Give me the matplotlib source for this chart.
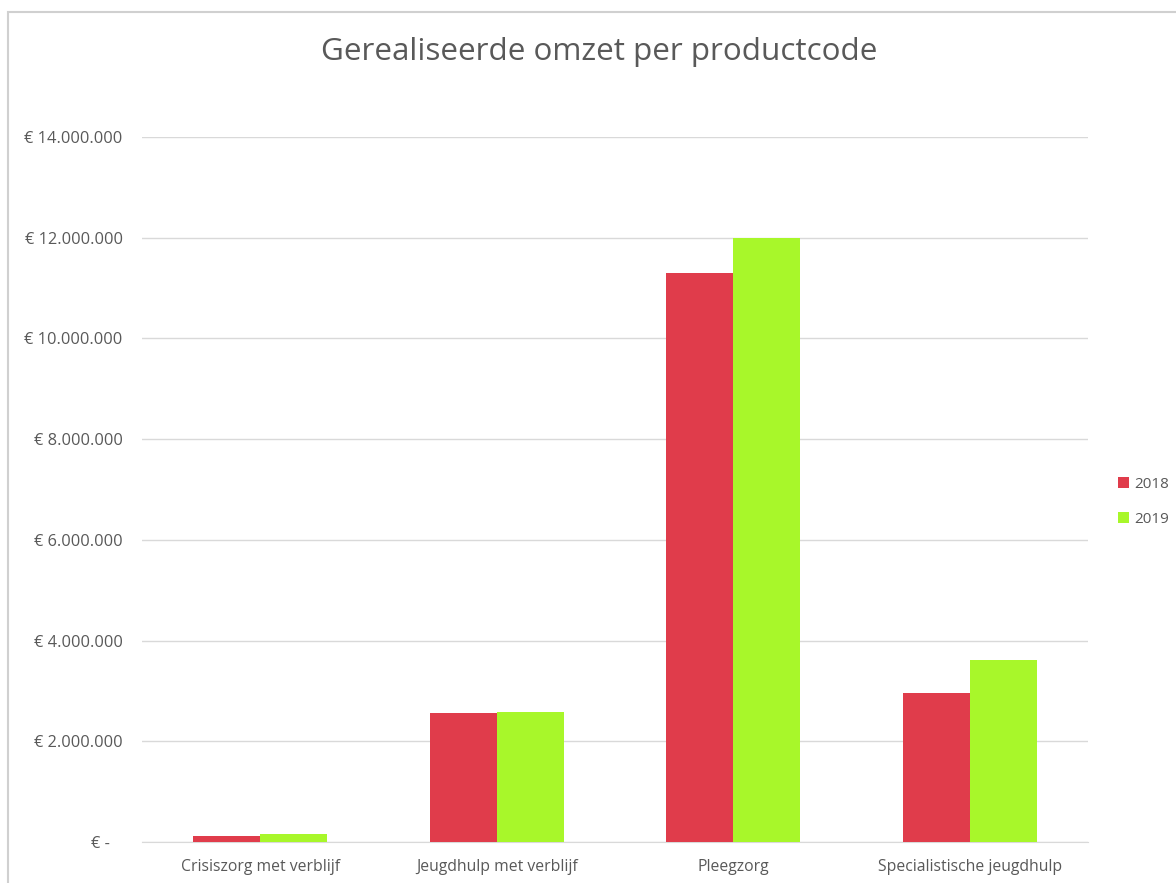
import matplotlib
matplotlib.use("Agg")
import matplotlib.pyplot as plt
from matplotlib.patches import Rectangle
from matplotlib.ticker import FuncFormatter
import numpy as np

categories = ["Crisiszorg met verblijf", "Jeugdhulp met verblijf", "Pleegzorg", "Specialistische jeugdhulp"]
values_2018 = [120000, 2560000, 11290000, 2960000]
values_2019 = [160000, 2580000, 12000000, 3610000]
series_names = ["2018", "2019"]
title = "Gerealiseerde omzet per productcode"

plt.rcParams['font.family'] = ['Open Sans', 'DejaVu Sans']
text_color = '#595959'
grid_color = '#D9D9D9'
c2018 = '#E03C4B'
c2019 = '#A8F72A'

fig = plt.figure(figsize=(11.76, 8.83), dpi=100)
fig.patches.append(Rectangle((8/1176, -0.05), 1.2, 1 - 12/883 + 0.05, transform=fig.transFigure,
                             fill=False, edgecolor='#D0D0D0', linewidth=1.5))
ax = fig.add_axes([142/1176, 1 - 842/883, (1088-142)/1176, (842-137)/883])

x = np.arange(len(categories))
w = 0.284
ax.bar(x - w/2, values_2018, width=w, color=c2018, label=series_names[0], zorder=3)
ax.bar(x + w/2, values_2019, width=w, color=c2019, label=series_names[1], zorder=3)

ax.set_xlim(-0.5, len(categories) - 0.5)
ax.set_ylim(0, 14000000)
ax.set_yticks(np.arange(0, 14000001, 2000000))

def fmt(v, pos):
    if v == 0:
        return "€ -   "
    return "€ " + f"{int(v):,}".replace(",", ".")
ax.yaxis.set_major_formatter(FuncFormatter(fmt))
ax.set_xticks(x)
ax.set_xticklabels(categories)

ax.grid(axis='y', color=grid_color, linewidth=1, zorder=0)
for s in ['top', 'right', 'left']:
    ax.spines[s].set_visible(False)
ax.spines['bottom'].set_color(grid_color)
ax.tick_params(axis='y', length=0, colors=text_color, labelsize=11.8, pad=14)
ax.tick_params(axis='x', length=0, colors=text_color, labelsize=11.3, pad=12)

fig.text(599/1176, 1 - 52/883, title, ha='center', va='center', fontsize=22.6, color=text_color)

leg = fig.legend(loc='center left', bbox_to_anchor=(1104/1176, 1 - 502/883), frameon=False,
                 fontsize=11, handlelength=0.75, handleheight=0.75, handletextpad=0.35,
                 labelspacing=1.3, labelcolor=text_color)

fig.savefig("out.png", dpi=100)
